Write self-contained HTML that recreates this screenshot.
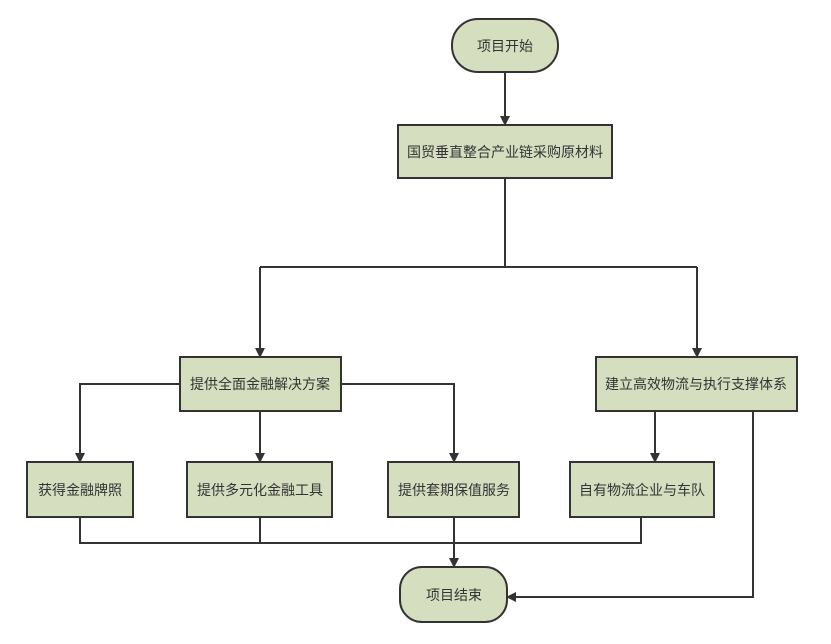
<!DOCTYPE html>
<html><head><meta charset="utf-8"><style>
body{margin:0;background:#fff;}
svg text{font-family:"Liberation Sans","Noto Sans CJK SC",sans-serif;font-size:14px;fill:#333;text-anchor:middle;dominant-baseline:central;}
.b{fill:#d5dfc0;stroke:#333;stroke-width:2;}
.l{stroke:#333;stroke-width:2;fill:none;}
</style></head><body>
<svg width="831" height="639" xmlns="http://www.w3.org/2000/svg">
<defs><marker id="a" markerWidth="10" markerHeight="10" refX="9" refY="5" orient="auto" markerUnits="userSpaceOnUse"><path d="M0,0 L10,5 L0,10 z" fill="#333"/></marker></defs>
<path class="l" d="M505,72 V125" marker-end="url(#a)"/>
<path class="l" d="M505,178 V267 M260,267 H697"/>
<path class="l" d="M260,267 V357" marker-end="url(#a)"/>
<path class="l" d="M697,267 V357" marker-end="url(#a)"/>
<path class="l" d="M180,384 H80 V462" marker-end="url(#a)"/>
<path class="l" d="M260,411 V462" marker-end="url(#a)"/>
<path class="l" d="M341,384 H454 V462" marker-end="url(#a)"/>
<path class="l" d="M655,411 V462" marker-end="url(#a)"/>
<path class="l" d="M80,517 V543 H641 V517 M260,517 V543"/>
<path class="l" d="M454,517 V567" marker-end="url(#a)"/>
<path class="l" d="M753,411 V597 H507" marker-end="url(#a)"/>
<rect class="b" x="452" y="19" width="106" height="53" rx="26"/><text x="505" y="46">项目开始</text>
<rect class="b" x="398" y="125" width="214" height="53"/><text x="505" y="152">国贸垂直整合产业链采购原材料</text>
<rect class="b" x="180" y="357" width="161" height="54"/><text x="260" y="384">提供全面金融解决方案</text>
<rect class="b" x="596" y="357" width="201" height="54"/><text x="696" y="384">建立高效物流与执行支撑体系</text>
<rect class="b" x="27" y="462" width="106" height="55"/><text x="80" y="490">获得金融牌照</text>
<rect class="b" x="187" y="462" width="145" height="55"/><text x="260" y="490">提供多元化金融工具</text>
<rect class="b" x="388" y="462" width="131" height="55"/><text x="454" y="490">提供套期保值服务</text>
<rect class="b" x="570" y="462" width="144" height="55"/><text x="642" y="490">自有物流企业与车队</text>
<rect class="b" x="400" y="567" width="107" height="55" rx="22"/><text x="454" y="595">项目结束</text>
</svg>
</body></html>
